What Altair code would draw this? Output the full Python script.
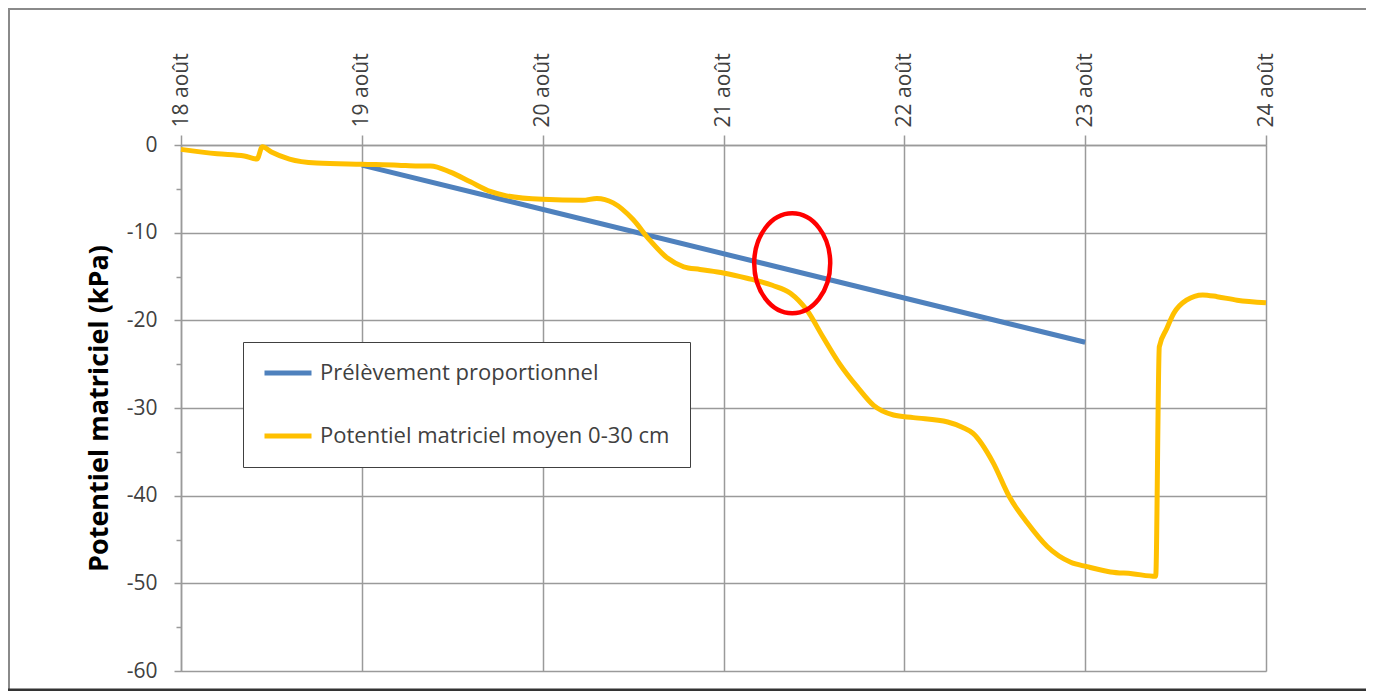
import altair as alt
import pandas as pd

# ---- data ----
series_names = ["Prélèvement proportionnel", "Potentiel matriciel moyen 0-30 cm"]
series_colors = ["#4F81BD", "#FFC000"]

days_prel = [19.0, 23.0]
vals_prel = [-2.3, -22.5]

days_pot = [18.0, 18.2, 18.35, 18.42, 18.45, 18.5, 18.6, 18.75, 19.0, 19.2, 19.31, 19.38,
            19.49, 19.6, 19.71, 19.8, 20.0, 20.22, 20.3, 20.39, 20.5, 20.59, 20.69, 20.78,
            20.87, 21.0, 21.13, 21.27, 21.37, 21.46, 21.55, 21.64, 21.74, 21.83, 21.94,
            22.05, 22.24, 22.32, 22.38, 22.49, 22.58, 22.68, 22.79, 22.92, 23.01, 23.14,
            23.26, 23.39, 23.41, 23.45, 23.49, 23.56, 23.65, 23.73, 23.84, 24.0]
vals_pot = [-0.5, -1.0, -1.25, -1.6, -0.2, -0.8, -1.6, -2.05, -2.2, -2.3, -2.4, -2.4,
            -3.1, -4.2, -5.3, -5.8, -6.2, -6.3, -6.1, -6.6, -8.5, -10.8, -12.9, -13.9,
            -14.2, -14.6, -15.2, -16.0, -16.9, -18.8, -21.9, -24.9, -27.6, -29.7, -30.8,
            -31.1, -31.6, -32.2, -32.9, -36.2, -40.1, -43.1, -45.8, -47.6, -48.1, -48.7,
            -48.9, -49.2, -23.0, -21.0, -19.2, -17.7, -17.1, -17.3, -17.7, -18.0]

x_ticks = [18, 19, 20, 21, 22, 23, 24]
y_ticks = list(range(-60, 1, 5))

annot_x = [21.38]
annot_y = [-13.5]

FONT = "Open Sans"
GRID = "#9a9a9a"

df = pd.concat([
    pd.DataFrame({"jour": days_prel, "kPa": vals_prel, "serie": series_names[0]}),
    pd.DataFrame({"jour": days_pot, "kPa": vals_pot, "serie": series_names[1]}),
])
df_annot = pd.DataFrame({"jour": annot_x, "kPa": annot_y})

x_scale = alt.Scale(domain=[18, 24], nice=False, zero=False)
y_scale = alt.Scale(domain=[-60, 0], nice=False, zero=False)

x_axis = alt.Axis(
    orient="top", values=x_ticks, labelExpr="datum.value + ' août'",
    labelAngle=270, labelAlign="left", labelBaseline="middle",
    labelFont=FONT, labelFontSize=21, labelColor="#404040", labelPadding=8,
    tickSize=10, tickColor=GRID, tickWidth=1.5,
    grid=True, gridColor=GRID, gridWidth=1.5,
    domain=True, domainColor=GRID, domainWidth=1.5, title=None,
)

y_axis = alt.Axis(
    values=y_ticks,
    labelExpr="datum.value % 10 == 0 ? '' + datum.value : ''",
    labelFont=FONT, labelFontSize=21, labelColor="#404040", labelPadding=17,
    tickSize={"condition": {"test": "datum.value % 10 == 0", "value": 7}, "value": 5},
    tickColor=GRID, tickWidth=1.5,
    grid=True, gridColor=GRID, gridWidth=1.5,
    gridOpacity={"condition": {"test": "datum.value % 10 == 0", "value": 1}, "value": 0},
    domain=True, domainColor=GRID, domainWidth=1.5,
    title="Potentiel matriciel (kPa)", titleFont=FONT, titleFontSize=27,
    titleFontWeight="bold", titleColor="#000000", titleAngle=270,
    titleX=-82, titleY=263, titleAlign="center", titleBaseline="middle",
)

lines = alt.Chart(df).mark_line(strokeWidth=5, interpolate="monotone").encode(
    x=alt.X("jour:Q", scale=x_scale, axis=x_axis),
    y=alt.Y("kPa:Q", scale=y_scale, axis=y_axis),
    color=alt.Color(
        "serie:N",
        scale=alt.Scale(domain=series_names, range=series_colors),
        sort=series_names,
        legend=alt.Legend(
            orient="none", legendX=62, legendY=197, title=None,
            symbolType="M-4.7,0L4.7,0", symbolSize=100, symbolStrokeWidth=5,
            labelFont=FONT, labelFontSize=22, labelColor="#404040",
            labelLimit=800, labelOffset=21,
            padding=20, rowPadding=41, symbolOffset=14,
            strokeColor="#404040", fillColor="white",
        ),
    ),
    detail="serie:N",
)

ellipse = alt.Chart(df_annot).mark_point(
    shape="M0,-1 A0.76,1 0 1,1 0,1 A0.76,1 0 1,1 0,-1 Z",
    size=10000, filled=False, stroke="#FF0000", strokeWidth=4.5, opacity=1,
).encode(x="jour:Q", y="kPa:Q")

frame_src = pd.DataFrame({"k": [0]})
frame_top = alt.Chart(frame_src).mark_rule(color="#8a8a8a", strokeWidth=2).encode(
    x=alt.value(-173), x2=alt.value(1190), y=alt.value(-136))
frame_left = alt.Chart(frame_src).mark_rule(color="#8a8a8a", strokeWidth=2).encode(
    x=alt.value(-172), y=alt.value(-137), y2=alt.value(546))
frame_bottom = alt.Chart(frame_src).mark_rule(color="#333333", strokeWidth=3).encode(
    x=alt.value(-173), x2=alt.value(1190), y=alt.value(545))

chart = alt.layer(lines, ellipse, frame_top, frame_left, frame_bottom).properties(
    width=1085, height=526,
    autosize=alt.AutoSizeParams(type="none"),
    padding={"left": 173, "top": 137, "right": 100, "bottom": 20},
).configure_view(stroke=None).configure(background="white")

chart.save("out.html", embed_options={"renderer": "svg", "actions": False})
